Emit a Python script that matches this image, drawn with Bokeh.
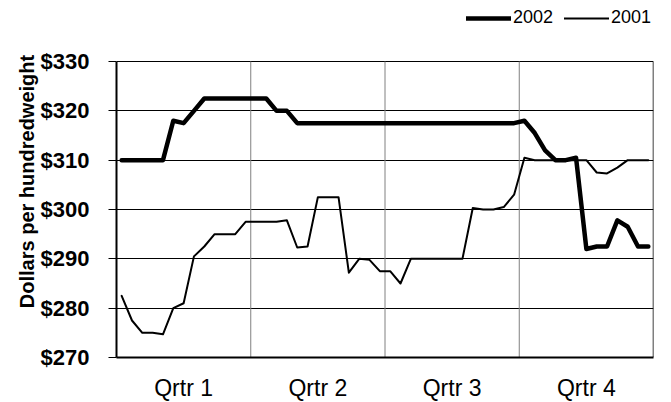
from bokeh.plotting import figure
from bokeh.models import FixedTicker, NumeralTickFormatter, Legend, LegendItem, Range1d
from bokeh.embed import file_html
from bokeh.resources import INLINE

# ---- data ----
quarters = ["Qrtr 1", "Qrtr 2", "Qrtr 3", "Qrtr 4"]
weeks_per_quarter = 13
y_ticks = [270, 280, 290, 300, 310, 320, 330]

prices_2002 = [310, 310, 310, 310, 310, 318, 317.5, 320, 322.5, 322.5,
               322.5, 322.5, 322.5, 322.5, 322.5, 320, 320, 317.5, 317.5, 317.5,
               317.5, 317.5, 317.5, 317.5, 317.5, 317.5, 317.5, 317.5, 317.5, 317.5,
               317.5, 317.5, 317.5, 317.5, 317.5, 317.5, 317.5, 317.5, 317.5, 318,
               315.5, 312, 310, 310, 310.5, 292, 292.5, 292.5, 297.8, 296.5,
               292.5, 292.5]

prices_2001 = [282.5, 277.5, 275, 275, 274.7, 280, 281, 290.5, 292.5, 295,
               295, 295, 297.5, 297.5, 297.5, 297.5, 297.8, 292.3, 292.5, 302.5,
               302.5, 302.5, 287.2, 290, 289.8, 287.5, 287.5, 285, 290, 290,
               290, 290, 290, 290, 300.3, 300, 300, 300.5, 303, 310.5,
               310, 310, 310, 310, 310, 310, 307.5, 307.3, 308.5, 310,
               310, 310]

n = len(prices_2002)
x = [i + 0.5 for i in range(n)]
boundaries = [weeks_per_quarter * k for k in range(1, len(quarters))]
label_pos = [weeks_per_quarter * k + weeks_per_quarter / 2 for k in range(len(quarters))]
y_min, y_max = y_ticks[0], y_ticks[-1]

FONT = "Liberation Sans"

# plot area (296 px for the value range) plus headroom for the legend
PLOT_H = 296
FRAME_H = 352
y_top = y_min + (y_max - y_min) * FRAME_H / PLOT_H

p = figure(frame_width=537, frame_height=FRAME_H, output_backend="svg", toolbar_location=None,
           x_range=Range1d(0, n), y_range=Range1d(y_min, y_top),
           min_border_left=116, min_border_right=18, min_border_top=5,
           min_border_bottom=44)

p.background_fill_color = "white"
p.border_fill_color = "white"
p.outline_line_color = None

# quarter dividers and right border of the plot area
p.segment(x0=boundaries, y0=[y_min] * len(boundaries), x1=boundaries, y1=[y_max] * len(boundaries),
          line_color="#808080", line_width=1)
p.segment(x0=[n], y0=[y_min], x1=[n], y1=[y_max], line_color="black", line_width=1.5)

l02 = p.line(x, prices_2002, line_color="black", line_width=4.5, line_join="round", line_cap="round")
l01 = p.line(x, prices_2001, line_color="black", line_width=2, line_join="round", line_cap="round")

# x axis
p.xaxis.ticker = FixedTicker(ticks=label_pos)
p.xaxis.major_label_overrides = {lp: q for lp, q in zip(label_pos, quarters)}
p.xaxis.major_tick_line_color = None
p.xaxis.minor_tick_line_color = None
p.xaxis.axis_line_color = "black"
p.xaxis.axis_line_width = 2
p.xaxis.major_label_text_font = FONT
p.xaxis.major_label_text_font_size = "23px"
p.xaxis.major_label_text_color = "black"
p.xaxis.major_label_standoff = 11
p.xgrid.visible = False

# y axis
p.yaxis.ticker = FixedTicker(ticks=y_ticks)
p.yaxis.bounds = (y_min, y_max)
p.yaxis.formatter = NumeralTickFormatter(format="$0")
p.yaxis.major_tick_out = 8
p.yaxis.major_tick_in = 0
p.yaxis.major_tick_line_color = "black"
p.yaxis.minor_tick_line_color = None
p.yaxis.axis_line_color = "black"
p.yaxis.axis_line_width = 2
p.yaxis.major_label_text_font = FONT
p.yaxis.major_label_text_font_size = "22px"
p.yaxis.major_label_text_font_style = "bold"
p.yaxis.major_label_text_color = "black"
p.yaxis.major_label_standoff = 19
p.yaxis.axis_label = "Dollars per hundredweight"
p.yaxis.axis_label_text_font = FONT
p.yaxis.axis_label_text_font_size = "20px"
p.yaxis.axis_label_text_font_style = "bold"
p.yaxis.axis_label_text_color = "black"
p.yaxis.axis_label_standoff = 0

p.ygrid.ticker = FixedTicker(ticks=y_ticks)
p.ygrid.grid_line_color = "black"
p.ygrid.grid_line_width = 1

legend = Legend(items=[LegendItem(label="2002", renderers=[l02]),
                       LegendItem(label="2001", renderers=[l01])],
                orientation="horizontal", location=(350, 329),
                glyph_width=45, glyph_height=20, label_standoff=2, spacing=11,
                padding=0, margin=0, border_line_color=None,
                background_fill_alpha=0,
                label_text_font=FONT, label_text_font_size="18px",
                label_text_color="black")
p.add_layout(legend, "center")

open("out.html", "w").write(file_html(p, INLINE))
